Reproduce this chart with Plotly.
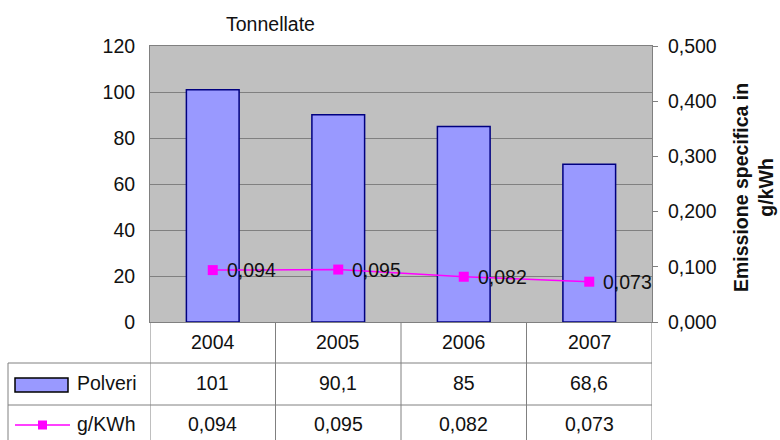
import plotly.graph_objects as go

# Data
years = ["2004", "2005", "2006", "2007"]
polveri = [101, 90.1, 85, 68.6]          # tonnellate
g_kwh = [0.094, 0.095, 0.082, 0.073]     # emissione specifica
polveri_labels = ["101", "90,1", "85", "68,6"]
gkwh_labels = ["0,094", "0,095", "0,082", "0,073"]

FONT = "Liberation Sans, Arial, sans-serif"
FS = 19.5
TXT = "#111111"
BAR_FILL = "#9999FF"
BAR_LINE = "#000080"
LINE_COL = "#FF00FF"
GRID = "#808080"
TABLE_LINE = "#808080"

# plot-area geometry in pixels (used to place the data table below)
W, H = 780, 440
L, R, T, B = 150, 652, 46, 322
PH = B - T
PW = R - L


def py(p):
    """pixel y -> paper y"""
    return (B - p) / PH


def px(p):
    """pixel x -> paper x"""
    return (p - L) / PW


xs = list(range(len(years)))

fig = go.Figure()
fig.add_trace(go.Bar(
    x=xs, y=polveri, name="Polveri",
    marker=dict(color=BAR_FILL, line=dict(color=BAR_LINE, width=1.5)),
    width=0.42, yaxis="y",
))
fig.add_trace(go.Scatter(
    x=xs, y=g_kwh, name="g/KWh", yaxis="y2",
    mode="lines+markers",
    line=dict(color=LINE_COL, width=1.5),
    marker=dict(symbol="square", size=10, color=LINE_COL),
))

shapes = []
annotations = []

# value labels next to the line markers
for i, v in enumerate(g_kwh):
    annotations.append(dict(x=i, y=v, xref="x", yref="y2", text=gkwh_labels[i],
                            xanchor="left", yanchor="middle", xshift=12,
                            showarrow=False, font=dict(family=FONT, size=FS, color=TXT)))

# table: vertical lines
for xb in [-0.5, 0.5, 1.5, 2.5, 3.5]:
    shapes.append(dict(type="line", xref="x", yref="paper",
                       x0=xb, x1=xb, y0=0, y1=py(445),
                       line=dict(color=TABLE_LINE, width=1)))
# table: horizontal lines
for yb in [363, 405]:
    shapes.append(dict(type="line", xref="paper", yref="paper",
                       x0=px(8), x1=1, y0=py(yb), y1=py(yb),
                       line=dict(color=TABLE_LINE, width=1)))
# legend column left border
shapes.append(dict(type="line", xref="paper", yref="paper",
                   x0=px(8), x1=px(8), y0=py(363), y1=py(445),
                   line=dict(color=TABLE_LINE, width=1)))

# legend keys
shapes.append(dict(type="rect", xref="paper", yref="paper",
                   x0=px(15), x1=px(68), y0=py(392), y1=py(378),
                   fillcolor=BAR_FILL, line=dict(color="#000000", width=1.5)))
shapes.append(dict(type="line", xref="paper", yref="paper",
                   x0=px(15), x1=px(70), y0=py(425), y1=py(425),
                   line=dict(color=LINE_COL, width=1.5)))
shapes.append(dict(type="rect", xref="paper", yref="paper",
                   x0=px(38), x1=px(47), y0=py(429.5), y1=py(420.5),
                   fillcolor=LINE_COL, line=dict(color=LINE_COL, width=0)))

# table text
for i, yr in enumerate(years):
    for txt, yp in ((yr, 342), (polveri_labels[i], 383), (gkwh_labels[i], 424)):
        annotations.append(dict(x=i, y=py(yp), xref="x", yref="paper", text=txt,
                                xanchor="center", yanchor="middle", showarrow=False,
                                font=dict(family=FONT, size=FS, color=TXT)))
for txt, yp in (("Polveri", 383), ("g/KWh", 424)):
    annotations.append(dict(x=px(75), y=py(yp), xref="paper", yref="paper", text=txt,
                            xanchor="left", yanchor="middle", showarrow=False,
                            font=dict(family=FONT, size=FS, color=TXT)))

# titles
annotations.append(dict(x=px(270), y=py(24), xref="paper", yref="paper", text="Tonnellate",
                        xanchor="center", yanchor="middle", showarrow=False,
                        font=dict(family=FONT, size=FS, color=TXT)))
annotations.append(dict(x=px(753), y=py(188), xref="paper", yref="paper",
                        text="<b>Emissione specifica in<br>g/kWh</b>", textangle=-90,
                        xanchor="center", yanchor="middle",
                        showarrow=False, font=dict(family=FONT, size=FS, color=TXT)))

fig.update_layout(
    width=W, height=H,
    margin=dict(l=L, r=W - R, t=T, b=H - B),
    paper_bgcolor="white", plot_bgcolor="#C0C0C0",
    separators=",.",
    showlegend=False,
    font=dict(family=FONT, size=FS, color=TXT),
    xaxis=dict(range=[-0.5, 3.5], showticklabels=False, showgrid=False,
               zeroline=False, showline=True, linecolor=GRID, mirror=True,
               ticks=""),
    yaxis=dict(range=[0, 120], dtick=20, showgrid=True, gridcolor=GRID,
               gridwidth=1, zeroline=False, showline=True, linecolor=GRID,
               ticks="", ticklen=0, ticklabelstandoff=10,
               tickfont=dict(family=FONT, size=FS, color=TXT)),
    yaxis2=dict(range=[0, 0.5], dtick=0.1, tickformat=".3f", overlaying="y",
                side="right", showgrid=False, zeroline=False, showline=True,
                linecolor=GRID, ticks="outside", ticklen=5, tickcolor=GRID,
                ticklabelstandoff=6,
                tickfont=dict(family=FONT, size=FS, color=TXT)),
    shapes=shapes,
    annotations=annotations,
)

fig.write_html("out.html")
